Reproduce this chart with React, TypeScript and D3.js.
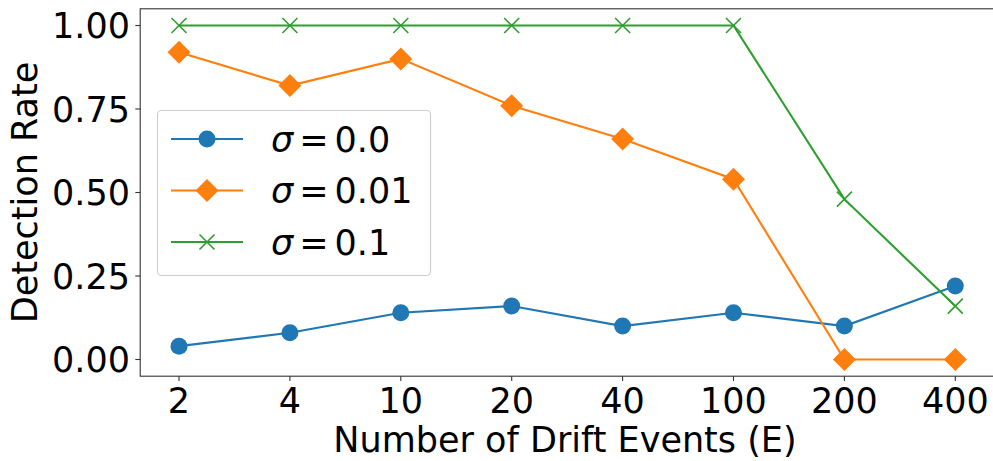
import React from "react";
import * as d3 from "d3";

const categories = ["2", "4", "10", "20", "40", "100", "200", "400"];
const sigma00 = [0.04, 0.08, 0.14, 0.16, 0.10, 0.14, 0.10, 0.22];
const sigma001 = [0.92, 0.82, 0.90, 0.76, 0.66, 0.54, 0.0, 0.0];
const sigma01 = [1.0, 1.0, 1.0, 1.0, 1.0, 1.0, 0.48, 0.16];
const yTicks = [0, 0.25, 0.5, 0.75, 1.0];
const seriesNames = ["0.0", "0.01", "0.1"];

const W = 993;
const H = 461;
const FONT = "'DejaVu Sans', sans-serif";
const FS = 35;

export default function App() {
  const left = 140.2;
  const right = 994.1;
  const top = 8.8;
  const bottom = 376.2;
  const idx = categories.map((_, i) => i);
  const x = d3.scaleLinear().domain([-0.35, 7.35]).range([left, right]);
  const y = d3.scaleLinear().domain([-0.05, 1.05]).range([bottom, top]);
  const line = d3
    .line<number>()
    .x((_, i) => x(i))
    .y((d) => y(d));

  const series = [
    { values: sigma00, color: "#1f77b4", marker: "o", name: seriesNames[0] },
    { values: sigma001, color: "#ff7f0e", marker: "D", name: seriesNames[1] },
    { values: sigma01, color: "#2ca02c", marker: "x", name: seriesNames[2] },
  ];

  const drawMarker = (m: string, cx: number, cy: number, color: string, key: any) => {
    if (m === "o") return <circle key={key} cx={cx} cy={cy} r={8.5} fill={color} />;
    if (m === "D") {
      const s = 11.5;
      return (
        <path
          key={key}
          d={`M${cx},${cy - s}L${cx + s},${cy}L${cx},${cy + s}L${cx - s},${cy}Z`}
          fill={color}
        />
      );
    }
    const s = 7.5;
    return (
      <path
        key={key}
        d={`M${cx - s},${cy - s}L${cx + s},${cy + s}M${cx - s},${cy + s}L${cx + s},${cy - s}`}
        stroke={color}
        strokeWidth={1.6}
        fill="none"
      />
    );
  };

  const legendRows = [139, 190.5, 242];

  return (
    <svg
      width={W}
      height={H}
      style={{ position: "absolute", left: 0, top: 0, background: "#fff" }}
      fontFamily={FONT}
    >
      <rect x={0} y={0} width={W} height={H} fill="#fff" />
      {series.map((s, si) => (
        <g key={si}>
          <path d={line(s.values) || ""} fill="none" stroke={s.color} strokeWidth={2.1} />
          {s.values.map((v, i) => drawMarker(s.marker, x(i), y(v), s.color, i))}
        </g>
      ))}
      <rect
        x={left}
        y={top}
        width={right - left}
        height={bottom - top}
        fill="none"
        stroke="#333"
        strokeWidth={1.1}
      />
      {idx.map((i) => (
        <g key={i}>
          <line x1={x(i)} x2={x(i)} y1={bottom} y2={bottom + 4.9} stroke="#333" strokeWidth={1.1} />
          <text x={x(i)} y={413} textAnchor="middle" fontSize={FS} fill="#000">
            {categories[i]}
          </text>
        </g>
      ))}
      {yTicks.map((t) => (
        <g key={t}>
          <line x1={left - 4.9} x2={left} y1={y(t)} y2={y(t)} stroke="#333" strokeWidth={1.1} />
          <text x={130} y={y(t)} dy="0.36em" textAnchor="end" fontSize={FS} fill="#000">
            {d3.format(".2f")(t)}
          </text>
        </g>
      ))}
      <text x={565} y={452} textAnchor="middle" fontSize={FS} fill="#000">
        Number of Drift Events (E)
      </text>
      <text
        transform={`translate(37,${(top + bottom) / 2}) rotate(-90)`}
        textAnchor="middle"
        fontSize={FS}
        fill="#000"
      >
        Detection Rate
      </text>
      <rect
        x={157.5}
        y={110.5}
        width={273}
        height={165}
        rx={4}
        fill="#fff"
        fillOpacity={0.8}
        stroke="#ccc"
        strokeWidth={1.1}
      />
      {series.map((s, si) => (
        <g key={si}>
          <line x1={171} x2={243} y1={legendRows[si]} y2={legendRows[si]} stroke={s.color} strokeWidth={2.1} />
          {drawMarker(s.marker, 207, legendRows[si], s.color, "m")}
          <text x={271} y={legendRows[si]} dy="0.36em" fontSize={FS} fill="#000">
            <tspan fontStyle="italic">σ</tspan>
            <tspan dx={6}>=</tspan>
            <tspan dx={6}>{s.name}</tspan>
          </text>
        </g>
      ))}
    </svg>
  );
}
